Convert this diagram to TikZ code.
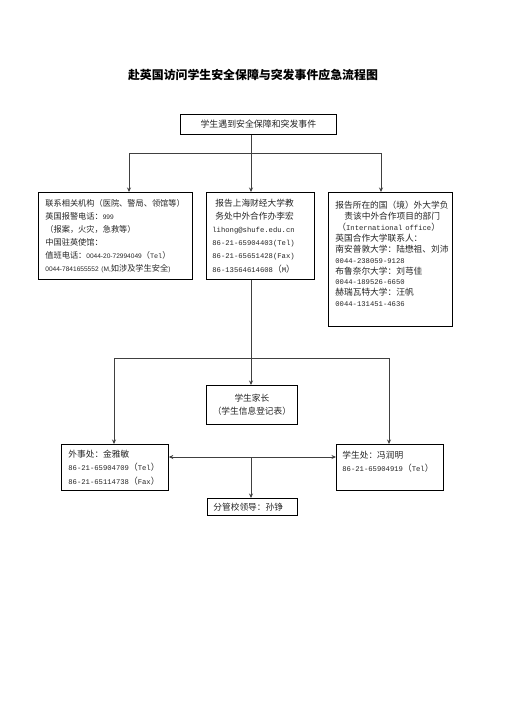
\documentclass[tikz,border=0pt]{standalone}
\usepackage{fontspec}
\setmainfont{Noto Sans CJK SC}
\newfontfamily\monof{Liberation Mono}[Scale=0.83]
\newfontfamily\arialf{Liberation Sans}[Scale=0.8]
\usetikzlibrary{arrows.meta}
\newcommand{\fixlines}{\lineskiplimit=-100pt\lineskip=0pt}
\begin{document}
\begin{tikzpicture}[x=1pt,y=-1pt,
  box/.style={draw=black,line width=0.8pt,anchor=north west,inner ysep=0pt,text=black!85},
  conn/.style={draw=black!75,line width=0.8pt},
  arr/.style={conn,-{Stealth[length=4.5pt,width=4pt]}},
  darr/.style={conn,{Stealth[length=4.5pt,width=4pt]}-{Stealth[length=4.5pt,width=4pt]}}]
\useasboundingbox[fill=white] (0,0) rectangle (504,713);
\node[font={\fontsize{11.9}{14}\selectfont\bfseries}] (title) at (253,75) {赴英国访问学生安全保障与突发事件应急流程图};
\node[box,minimum width=156pt,minimum height=20pt,align=center,font={\fontsize{8.9}{12}\selectfont}] (top) at (180,114) {学生遇到安全保障和突发事件};
\node[box,minimum height=87pt,inner xsep=7pt,text width=140pt,align=left,font={\fontsize{8.2}{13}\selectfont\fixlines}] (left) at (38,192) {联系相关机构（医院、警局、领馆等）\\
英国报警电话：{\arialf 999}\\
（报案，火灾，急救等）\\
中国驻英使馆：\\
值班电话：{\arialf 0044-20-72994049}（{\monof Tel}）\\
{\arialf 0044-7841655552 (M,}如涉及学生安全{\arialf )}};
\node[box,minimum height=87pt,inner xsep=6pt,text width=96pt,align=left,font={\fontsize{8.7}{13.2}\selectfont\fixlines}] (mid) at (206,192) {\hspace*{3pt}报告上海财经大学教\\
\hspace*{3pt}务处中外合作办李宏\\
{\monof lihong@shufe.edu.cn}\\
{\monof 86-21-65904403(Tel)}\\
{\monof 86-21-65651428(Fax)}\\
{\monof 86-13564614608}（{\monof M}）};
\node[box,minimum height=134pt,inner xsep=7pt,text width=110pt,align=left,font={\fontsize{8.7}{10.9}\selectfont\fixlines}] (right) at (328,192) {报告所在的国（境）外大学负\\
\hspace*{9pt}责该中外合作项目的部门\\
\hspace*{2pt}（{\monof International office}）\\
英国合作大学联系人：\\
南安普敦大学：陆懋祖、刘沛\\
{\monof 0044-238059-9128}\\
布鲁奈尔大学：刘芎佳\\
{\monof 0044-189526-6650}\\
赫瑞瓦特大学：汪帆\\
{\monof 0044-131451-4636}\\
\mbox{}};
\node[box,minimum width=91pt,minimum height=39pt,align=center,font={\fontsize{8.7}{13}\selectfont\fixlines}] (parent) at (206,385) {学生家长\\（学生信息登记表）};
\node[box,minimum height=46pt,inner xsep=7pt,text width=93pt,align=left,font={\fontsize{8.7}{13.5}\selectfont\fixlines}] (wsc) at (61,444) {外事处：金雅敏\\
{\monof 86-21-65904709}（{\monof Tel}）\\
{\monof 86-21-65114738}（{\monof Fax}）};
\node[box,minimum height=46pt,inner xsep=6pt,text width=95pt,align=left,font={\fontsize{8.7}{12.5}\selectfont\fixlines}] (xsc) at (336,444) {学生处：冯润明\\
{\monof 86-21-65904919}（{\monof Tel}）\\
\mbox{}};
\node[box,minimum height=17pt,inner xsep=6pt,text width=78pt,align=left,font={\fontsize{8.7}{12}\selectfont}] (fg) at (207,498) {分管校领导：孙铮};
\coordinate (jt) at (251,153);
\coordinate (jtl) at (129,153);
\coordinate (jtr) at (381,153);
\coordinate (jml) at (114,358);
\coordinate (jmr) at (389,358);
\coordinate (jb) at (251,457);
\draw[conn] (top.south -| jt) -- (jt);
\draw[conn] (jtl) -- (jtr);
\draw[arr] (jtl) -- (left.north -| jtl);
\draw[arr] (jt) -- (mid.north -| jt);
\draw[arr] (jtr) -- (right.north -| jtr);
\draw[arr] (mid.south -| jt) -- (parent.north -| jt);
\draw[conn] (jml) -- (jmr);
\draw[arr] (jml) -- (wsc.north -| jml);
\draw[arr] (jmr) -- (xsc.north -| jmr);
\draw[darr] (wsc.east |- jb) -- (xsc.west |- jb);
\draw[arr] (jb) -- (fg.north -| jb);
\end{tikzpicture}
\end{document}
